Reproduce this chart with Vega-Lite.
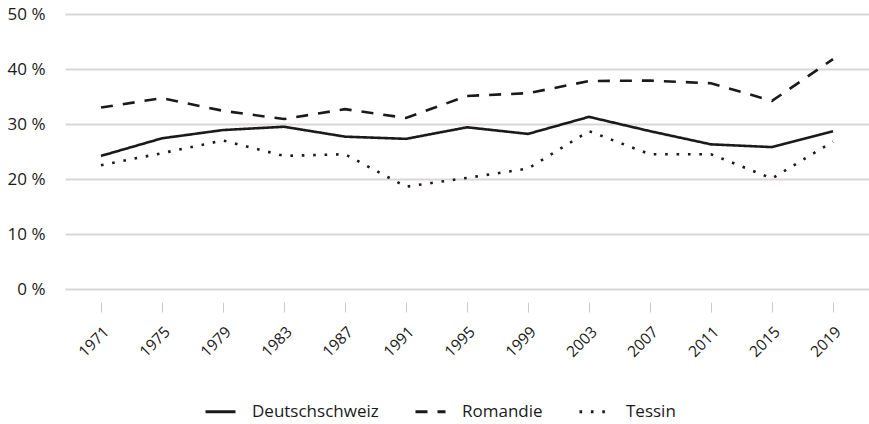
{
  "$schema": "https://vega.github.io/schema/vega-lite/v6.json",
  "width": 804,
  "height": 275,
  "autosize": {"type": "none"},
  "padding": {"left": 65, "top": 14, "right": 0, "bottom": 135},
  "background": "white",
  "config": {
    "view": {"stroke": null},
    "font": "Open Sans",
    "axis": {"labelFont": "Open Sans", "labelColor": "#1a1a1a"},
    "legend": {"labelFont": "Open Sans"}
  },
  "data": {
    "values": [
      {"year": "1971", "region": "Deutschschweiz", "v": 24.2},
      {"year": "1975", "region": "Deutschschweiz", "v": 27.4},
      {"year": "1979", "region": "Deutschschweiz", "v": 28.9},
      {"year": "1983", "region": "Deutschschweiz", "v": 29.5},
      {"year": "1987", "region": "Deutschschweiz", "v": 27.7},
      {"year": "1991", "region": "Deutschschweiz", "v": 27.3},
      {"year": "1995", "region": "Deutschschweiz", "v": 29.4},
      {"year": "1999", "region": "Deutschschweiz", "v": 28.2},
      {"year": "2003", "region": "Deutschschweiz", "v": 31.3},
      {"year": "2007", "region": "Deutschschweiz", "v": 28.7},
      {"year": "2011", "region": "Deutschschweiz", "v": 26.3},
      {"year": "2015", "region": "Deutschschweiz", "v": 25.8},
      {"year": "2019", "region": "Deutschschweiz", "v": 28.7},
      {"year": "1971", "region": "Romandie", "v": 33.0},
      {"year": "1975", "region": "Romandie", "v": 34.7},
      {"year": "1979", "region": "Romandie", "v": 32.4},
      {"year": "1983", "region": "Romandie", "v": 30.9},
      {"year": "1987", "region": "Romandie", "v": 32.7},
      {"year": "1991", "region": "Romandie", "v": 31.1},
      {"year": "1995", "region": "Romandie", "v": 35.1},
      {"year": "1999", "region": "Romandie", "v": 35.6},
      {"year": "2003", "region": "Romandie", "v": 37.8},
      {"year": "2007", "region": "Romandie", "v": 37.9},
      {"year": "2011", "region": "Romandie", "v": 37.4},
      {"year": "2015", "region": "Romandie", "v": 34.2},
      {"year": "2019", "region": "Romandie", "v": 41.8},
      {"year": "1971", "region": "Tessin", "v": 22.5},
      {"year": "1975", "region": "Tessin", "v": 24.7},
      {"year": "1979", "region": "Tessin", "v": 27.0},
      {"year": "1983", "region": "Tessin", "v": 24.2},
      {"year": "1987", "region": "Tessin", "v": 24.5},
      {"year": "1991", "region": "Tessin", "v": 18.6},
      {"year": "1995", "region": "Tessin", "v": 20.2},
      {"year": "1999", "region": "Tessin", "v": 21.9},
      {"year": "2003", "region": "Tessin", "v": 28.7},
      {"year": "2007", "region": "Tessin", "v": 24.5},
      {"year": "2011", "region": "Tessin", "v": 24.5},
      {"year": "2015", "region": "Tessin", "v": 20.1},
      {"year": "2019", "region": "Tessin", "v": 26.8}
    ]
  },
  "mark": {"type": "line", "strokeWidth": 2.6, "color": "#1a1a1a", "strokeCap": "butt", "strokeJoin": "miter"},
  "encoding": {
    "x": {
      "field": "year",
      "type": "ordinal",
      "scale": {"type": "point", "padding": 0.59},
      "axis": {
        "title": null,
        "domain": false,
        "grid": false,
        "ticks": true,
        "tickColor": "#cccccc",
        "tickWidth": 1,
        "tickSize": 10,
        "offset": 13,
        "labelAngle": -45,
        "labelFontSize": 15.5,
        "labelPadding": 12
      }
    },
    "y": {
      "field": "v",
      "type": "quantitative",
      "scale": {"domain": [0, 50], "nice": false},
      "axis": {
        "title": null,
        "values": [0, 10, 20, 30, 40, 50],
        "labelExpr": "datum.value + ' %'",
        "domain": false,
        "ticks": false,
        "labelPadding": 20,
        "labelFontSize": 17,
        "gridColor": "#d9d6d6",
        "gridWidth": 2
      }
    },
    "strokeDash": {
      "field": "region",
      "type": "nominal",
      "scale": {
        "domain": ["Deutschschweiz", "Romandie", "Tessin"],
        "range": [[1, 0], [12, 10], [2.6, 8.8]]
      },
      "legend": {
        "title": null,
        "orient": "none",
        "direction": "horizontal",
        "legendX": 139,
        "legendY": 381,
        "symbolType": "stroke",
        "symbolSize": 900,
        "symbolStrokeWidth": 3,
        "symbolStrokeColor": "#1a1a1a",
        "labelFontSize": 17,
        "labelColor": "#1a1a1a",
        "labelOffset": 15,
        "columnPadding": 30
      }
    }
  }
}
